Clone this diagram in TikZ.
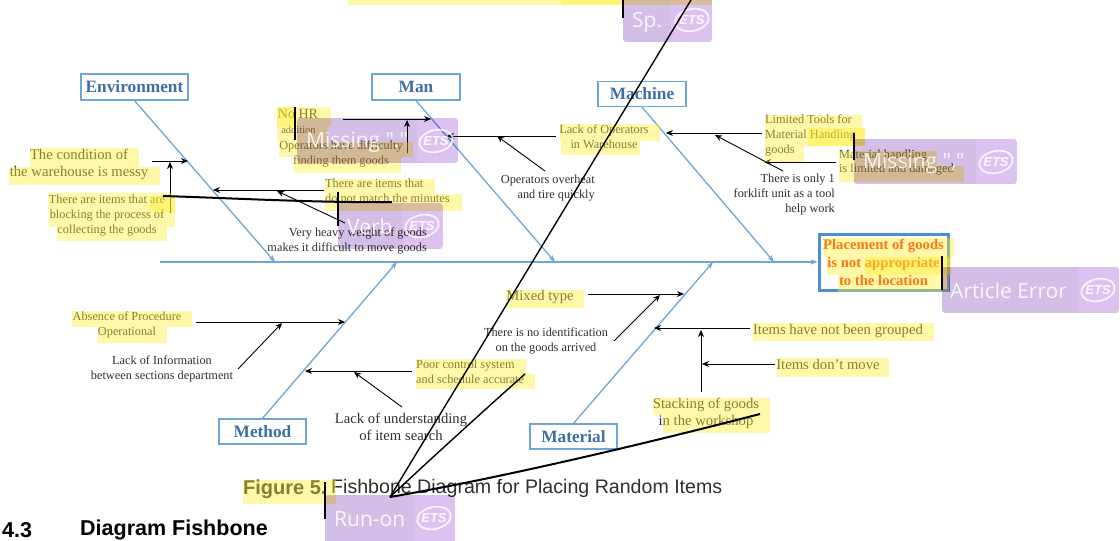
\documentclass[tikz,border=0pt]{standalone}
\usepackage{fontspec}
\setmainfont{Liberation Serif}
\setsansfont{Liberation Sans}
\newfontfamily\tagfont{Open Sans}
\usetikzlibrary{arrows.meta}
\definecolor{bonec}{HTML}{6FA5D8}
\definecolor{catc}{HTML}{3F6FA5}
\definecolor{headc}{HTML}{4F8FD0}
\definecolor{txtc}{HTML}{303030}
\definecolor{hlc}{HTML}{FFF032}
\definecolor{tagc}{HTML}{D3BEE7}
\definecolor{tagd}{HTML}{DCC2F1}
\newcommand{\fsz}[2]{\fontsize{#1}{#2}\selectfont}
\tikzset{
  x=1pt,y=-1pt,
  bone/.style={draw=bonec,line width=1.3pt,-{Stealth[length=7pt,width=5pt]}},
  catbox/.style={draw=bonec,line width=1.3pt,fill=white,inner sep=0pt,text=catc,font=\bfseries\fsz{17.3}{19}},
  arr/.style={draw=black,line width=.9pt,-{Stealth[length=7pt,width=6pt]}},
  txt/.style={inner sep=0pt,text=txtc,align=center,font=\fsz{12.3}{15}},
  big/.style={txt,font=\fsz{14.7}{17}},
  hl/.style={fill=hlc,opacity=.42},
  tagtxt/.style={inner sep=0pt,anchor=west,text=white,text opacity=.85,font=\tagfont\fsz{21}{23}},
  tagmark/.style={draw=black,line width=2pt},
  stray/.style={draw=black,line width=1.4pt},
  etsmark/.pic={
    \draw[white,opacity=.8,line width=1.8pt,rotate=12] (0,0) ellipse (17pt and 11pt);
    \node[inner sep=0pt,text=white,text opacity=.9,font=\sffamily\bfseries\itshape\fsz{13}{13}] at (0,0) {ETS};
  },
}
\begin{document}
\begin{tikzpicture}
\path[fill=white,use as bounding box] (0,0) rectangle (1120,541);
\clip (0,0) rectangle (1120,541);

% category boxes and head
\node[catbox,minimum width=107pt,minimum height=26pt] (envB) at (134.5,87) {Environment};
\node[catbox,minimum width=88pt,minimum height=26pt] (manB) at (416,87) {Man};
\node[catbox,minimum width=88pt,minimum height=25pt] (macB) at (642,94) {Machine};
\node[catbox,minimum width=87pt,minimum height=25pt] (metB) at (262.5,431.5) {Method};
\node[catbox,minimum width=87pt,minimum height=25pt] (matB) at (573.5,436.5) {Material};
\node[draw=headc,line width=3pt,minimum width=129pt,minimum height=56pt,inner sep=0pt,
  text=red!75!orange,align=center,font=\bfseries\fsz{14.7}{18}] (head) at (883.5,262)
  {Placement of goods\\is not appropriate\\to the location};

% spine and bones
\coordinate (spS) at (160,262);
\coordinate (spEnv) at (275,262);
\coordinate (spMan) at (555,262);
\coordinate (spMac) at (774,262);
\coordinate (spMet) at (397,262);
\coordinate (spMat) at (713,262);
\draw[bone] (spS) -- (head.west);
\draw[bone] (envB.south) -- (spEnv);
\draw[bone] (manB.south) -- (spMan);
\draw[bone] (macB.south) -- (spMac);
\draw[bone] (metB.north) -- (spMet);
\draw[bone] (matB.north) -- (spMat);

% texts
\node[big] (tCond) at (79,164) {The condition of\\the warehouse is messy};
\node[txt] (tBlock) at (107,215.5) {There are items that are\\blocking the process of\\collecting the goods};
\node[txt,font=\fsz{14}{15}] (tNoHR) at (298,114) {No HR};
\node[txt,font=\fsz{10.5}{12}] (tAdd) at (298.5,130) {addition};
\node[txt] (tOper) at (341,154) {Operators have difficulty\\finding them goods};
\node[txt,anchor=west,align=left] (tItems) at (325,191) {There are items that\\do not match the minutes};
\node[txt,anchor=east,align=right] (tHeavy) at (427,241) {Very heavy weight of goods\\makes it difficult to move goods};
\node[txt] (tLackOp) at (604,136.5) {Lack of Operators\\in Warehouse};
\node[txt,anchor=east,align=right] (tOver) at (595,188.5) {Operators overheat\\and tire quickly};
\node[txt,anchor=west,align=left] (tLimit) at (765,135) {Limited Tools for\\Material Handling\\goods};
\node[txt,anchor=west,align=left,font=\fsz{12.3}{14}] (tMatH) at (839,163) {Material handling\\is limited and damaged};
\node[txt,anchor=east,align=right] (tOnly) at (835,195) {There is only 1\\forklift unit as a tool\\help work};
\node[big] (tMixed) at (540,296.5) {Mixed type};
\node[txt] (tNoId) at (546,340.5) {There is no identification\\on the goods arrived};
\node[big] (tHave) at (838,330.5) {Items have not been grouped};
\node[big] (tDont) at (828,364.5) {Items don't move};
\node[big] (tStack) at (706,413) {Stacking of goods\\in the workshop};
\node[txt] (tAbs) at (127,324.5) {Absence of Procedure\\Operational};
\node[txt] (tInfo) at (162,368.5) {Lack of Information\\between sections department};
\node[txt,anchor=west,align=left] (tPoor) at (416,371.5) {Poor control system\\and schedule accurate};
\node[big] (tUnder) at (401,426.5) {Lack of understanding\\of item search};
\node[inner sep=0pt,anchor=west,text=txtc,font=\sffamily\bfseries\fsz{20}{22}] (cap1) at (243,489) {Figure 5.};
\node[inner sep=0pt,anchor=west,text=txtc,font=\sffamily\fsz{19.6}{22}] (cap2) at (331,488) {Fishbone Diagram for Placing Random Items};
\node[inner sep=0pt,anchor=west,text=black,font=\sffamily\bfseries\fsz{21.5}{23}] (sec1) at (2,530) {4.3};
\node[inner sep=0pt,anchor=west,text=black,font=\sffamily\bfseries\fsz{21.5}{23}] (sec2) at (80,530) {Diagram Fishbone};

% arrow end points
\foreach \n/\x/\y in {
 a1/152/161, a2/188/161, a3/170/213, a4/170/162,
 b1/324/190, b2/213/190, c1/345/223, c2/277/191,
 d1/343/119, d2/431/119, e1/407/153, e2/407/120,
 f1/556/136, f2/447/136, g1/545/171, g2/497/136,
 h1/762/133, h2/666/133, i1/783/171, i2/715/135,
 j1/836/162, j2/764/162,
 k1/196/322, k2/345/322, l1/238/369, l2/282/323,
 m1/412/371, m2/305/371, n1/402/407, n2/354/372,
 o1/588/294, o2/684/294, p1/614/341, p2/660/295,
 q1/750/328, q2/654/328, r1/701/392, r2/701/330,
 s1/775/364, s2/702/364}
 {\coordinate (\n) at (\x,\y);}
\draw[arr] (a1) -- (a2);
\draw[arr] (a3) -- (a4);
\draw[arr] (b1) -- (b2);
\draw[arr] (c1) -- (c2);
\draw[arr] (d1) -- (d2);
\draw[arr] (e1) -- (e2);
\draw[arr] (f1) -- (f2);
\draw[arr] (g1) -- (g2);
\draw[arr] (h1) -- (h2);
\draw[arr] (i1) -- (i2);
\draw[arr] (j1) -- (j2);
\draw[arr] (k1) -- (k2);
\draw[arr] (l1) -- (l2);
\draw[arr] (m1) -- (m2);
\draw[arr] (n1) -- (n2);
\draw[arr] (o1) -- (o2);
\draw[arr] (p1) -- (p2);
\draw[arr] (q1) -- (q2);
\draw[arr] (r1) -- (r2);
\draw[arr] (s1) -- (s2);

% highlights
\foreach \a/\b/\c/\d in {
 348/-2/712/5, 561/-2/623/5,
 30/148/139/167, 9/167/160/185,
 48/193/175/212, 150/196/175/212, 49/212/175/227, 57/227/167/241,
 277/107/331/127, 277/107/296/127, 277/127/328/142, 279/142/413/157, 294/157/401/173,
 325/179/435/194, 325/194/462/211,
 560/124/660/141, 561/141/640/155,
 764.5/115/862/128, 764.5/128/865/146, 808/128/865/146, 764.5/146/804/162,
 839/151/937/166, 839/166/964/182,
 824/238/954/257, 827/257/951/275, 865/257/951/275, 838/275/949/292,
 506/290/584/308,
 753/323/934/341, 777/358/889/377,
 653/398/770/415, 663/415/770/433,
 72/311/192/327, 98/327/167/343,
 416/359/526/374, 416/374/535/389,
 243/480/336/504}
 {\fill[hl] (\a,\b) rectangle (\c,\d);}

% purple tags (multiplied over what lies beneath)
\begin{scope}[blend mode=multiply]
\foreach \a/\b/\c/\d in {
 623/-6/712/42, 297/118/458/163, 338/203/443/249,
 854/139/1017/184, 942/267/1119/313, 325/495/455/545}
 {\begin{scope}
  \clip[rounded corners=3pt] (\a,\b) rectangle (\c,\d);
  \fill[tagc] (\a,\b) rectangle ({\c-41},\d);
  \fill[tagd] ({\c-41},\b) rectangle (\c,\d);
  \end{scope}}
\end{scope}
\node[tagtxt] (tgSp) at (632,22) {Sp.};
\node[tagtxt] (tgM1) at (306,142) {Missing "."};
\node[tagtxt] (tgV) at (347,227) {Verb};
\node[tagtxt] (tgM2) at (863,163) {Missing ","};
\node[tagtxt] (tgA) at (950,291) {Article Error};
\node[tagtxt] (tgR) at (334,519) {Run-on};
\pic at (692,20) {etsmark};
\pic at (436,141) {etsmark};
\pic at (422,226) {etsmark};
\pic at (996,162) {etsmark};
\pic at (1098,290) {etsmark};
\pic at (434,518) {etsmark};

% black annotation marks and stray strokes
\foreach \n/\x/\y in {
 mA/623/0, mB/623/18, mC/295/107, mD/295/140, mE/338/192, mF/338/226,
 mG/854/133, mH/854/160, mI/942/256, mJ/942/290, mK/325/482, mL/325/519,
 sA/163/196, sB/392/202, sC/390/497, sD/691/0, sE/525/374, sF/760/414}
 {\coordinate (\n) at (\x,\y);}
\draw[tagmark] (mA) -- (mB);
\draw[tagmark] (mC) -- (mD);
\draw[tagmark] (mE) -- (mF);
\draw[draw=black,line width=1.2pt] (mG) -- (mH);
\draw[tagmark] (mI) -- (mJ);
\draw[tagmark] (mK) -- (mL);
\draw[stray,line width=2pt] (sA) .. controls (230,198) and (320,203) .. (sB);
\draw[stray] (sC) -- (sD);
\draw[stray] (sC) .. controls (435,455) and (490,405) .. (sE);
\draw[stray,line width=2pt] (sC) .. controls (500,478) and (640,445) .. (sF);
\end{tikzpicture}
\end{document}
